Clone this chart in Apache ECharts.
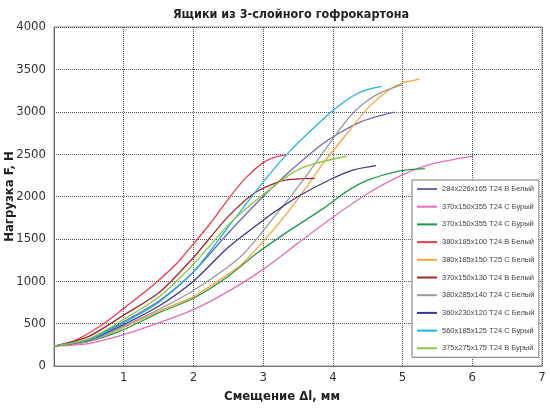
<!DOCTYPE html>
<html>
<head>
<meta charset="utf-8">
<script src="https://cdn.jsdelivr.net/npm/echarts@6/dist/echarts.min.js"></script>
<style>
  html, body { margin: 0; padding: 0; background: #fff; }
  #chart { width: 550px; height: 408px; }
</style>
</head>
<body>
<div id="chart"></div>
<script>
// подписи серий (легенда)
const seriesNames = [
  '284x226x165 T24 B Белый',
  '370x150x355 T24 C Бурый',
  '370x150x355 T24 C Бурый ',
  '380x185x100 T24 B Белый',
  '380x185x150 T25 C Белый',
  '370x150x130 T24 B Белый',
  '380x285x140 T24 C Белый',
  '360x230x120 T24 C Белый',
  '560x185x125 T24 C Бурый',
  '375x275x175 T24 B Бурый'
]

// [смещение, мм ; нагрузка, Н]
const box284 = [[0, 235], [0.5, 320], [1, 525], [1.5, 765], [2, 1110], [2.5, 1570], [3, 2000], [3.4, 2310], [3.9, 2650], [4.4, 2880], [4.88, 2995]]
const box370pink = [[0, 235], [0.5, 265], [1, 370], [1.5, 508], [2, 665], [2.5, 880], [3, 1140], [3.5, 1450], [4, 1755], [4.5, 2035], [5, 2255], [5.45, 2390], [6.03, 2480]]
const box370green = [[0, 235], [0.5, 290], [1, 430], [1.5, 626], [2, 800], [2.5, 1060], [2.9, 1324], [3.38, 1600], [3.86, 1857], [4.2, 2060], [4.5, 2192], [4.96, 2303], [5.32, 2330]]
const box380x100 = [[0, 235], [0.2, 265], [0.35, 320], [0.5, 390], [0.75, 520], [1, 680], [1.25, 840], [1.5, 1010], [1.75, 1200], [2, 1440], [2.25, 1690], [2.5, 1970], [2.75, 2220], [3, 2400], [3.15, 2460], [3.33, 2495]]
const box380x150 = [[0, 235], [0.5, 290], [1, 455], [1.5, 646], [2, 815], [2.14, 890], [2.67, 1186], [3.14, 1600], [3.52, 1995], [3.86, 2390], [4.24, 2780], [4.52, 3060], [4.81, 3260], [5.0, 3340], [5.24, 3385]]
const box370x130 = [[0, 235], [0.5, 350], [1, 600], [1.5, 860], [2, 1280], [2.5, 1765], [2.9, 2054], [3.3, 2190], [3.74, 2215]]
const box380x140 = [[0, 235], [0.5, 290], [1, 470], [1.5, 665], [2, 890], [2.67, 1285], [3.2, 1800], [3.57, 2190], [4.0, 2680], [4.2, 2900], [4.4, 3070], [4.67, 3220], [5.0, 3320]]
const box360x120 = [[0, 235], [0.5, 305], [1, 490], [1.5, 705], [2, 1000], [2.5, 1400], [3, 1720], [3.2, 1837], [3.5, 2000], [4, 2215], [4.3, 2315], [4.62, 2365]]
const box560x125 = [[0, 235], [0.5, 310], [1, 510], [1.5, 750], [2, 1110], [2.5, 1640], [3, 2170], [3.4, 2550], [3.95, 2980], [4.15, 3110], [4.35, 3215], [4.5, 3265], [4.7, 3300]]
const box375x175 = [[0, 235], [0.5, 320], [1, 550], [1.5, 810], [2, 1200], [2.5, 1665], [2.9, 1955], [3.4, 2270], [3.7, 2380], [4.2, 2475]]

const allSeries = [box284, box370pink, box370green, box380x100, box380x150, box370x130, box380x140, box360x120, box560x125, box375x175]

const colors = ['#6a6ab2', '#e46fb8', '#1f9a4a', '#ef3b4d', '#ffa23a', '#a6232b', '#9b9b9b', '#38388f', '#1cb4e6', '#8dc63f']

const chart = echarts.init(document.getElementById('chart'))

const option = {
  animation: false,
  title: {
    text: 'Ящики из 3-слойного гофрокартона',
    left: 286,
    top: 3,
    textAlign: 'center',
    textStyle: {
      fontFamily: 'DejaVu Sans Condensed',
      fontWeight: 'bold',
      fontSize: 12.5,
      color: '#222'
    }
  },
  grid: {
    left: 54,
    right: 8,
    top: 27,
    bottom: 42,
    containLabel: false,
    outerBoundsMode: 'none',
    show: true,
    borderColor: '#888',
    borderWidth: 1
  },
  legend: {
    orient: 'vertical',
    left: 412,
    top: 180,
    data: seriesNames,
    icon: 'rect',
    itemWidth: 20,
    itemHeight: 2,
    itemGap: 8.7,
    padding: [4.5, 3, 4.5, 5],
    backgroundColor: '#fff',
    borderColor: '#777',
    borderWidth: 1,
    textStyle: {
      fontFamily: 'Liberation Sans',
      fontSize: 7.5,
      lineHeight: 9,
      color: '#444'
    }
  },
  xAxis: {
    type: 'value',
    min: 0,
    max: 7,
    interval: 1,
    name: 'Смещение \u0394l, мм',
    nameLocation: 'middle',
    nameGap: 24,
    nameMoveOverlap: false,
    nameTextStyle: {
      fontFamily: 'DejaVu Sans Condensed',
      fontWeight: 'bold',
      fontSize: 13,
      color: '#222',
      padding: [0, 32, 0, 0]
    },
    axisLine: { lineStyle: { color: '#777' } },
    axisTick: { show: false },
    axisLabel: {
      fontFamily: 'DejaVu Sans Condensed',
      fontSize: 13,
      color: '#333',
      margin: 5,
      formatter: v => (v === 0 ? '' : String(v))
    },
    splitLine: { lineStyle: { color: '#555', type: 'dotted', width: 1 } }
  },
  yAxis: {
    type: 'value',
    min: 0,
    max: 4000,
    interval: 500,
    name: 'Нагрузка F, Н',
    nameLocation: 'middle',
    nameGap: 38,
    nameMoveOverlap: false,
    nameTextStyle: {
      fontFamily: 'DejaVu Sans Condensed',
      fontWeight: 'bold',
      fontSize: 13,
      color: '#222'
    },
    axisLine: { show: true, lineStyle: { color: '#666' } },
    axisTick: { show: false },
    axisLabel: {
      fontFamily: 'DejaVu Sans Condensed',
      fontSize: 13,
      color: '#333',
      margin: 8,
      formatter: v => String(v)
    },
    splitLine: { lineStyle: { color: '#555', type: 'dotted', width: 1 } }
  },
  series: allSeries.map((d, i) => ({
    name: seriesNames[i],
    type: 'line',
    data: d,
    smooth: 0.25,
    symbol: 'none',
    lineStyle: { width: 1.3, color: colors[i] },
    itemStyle: { color: colors[i] }
  }))
}

chart.setOption(option)
</script>
</body>
</html>
